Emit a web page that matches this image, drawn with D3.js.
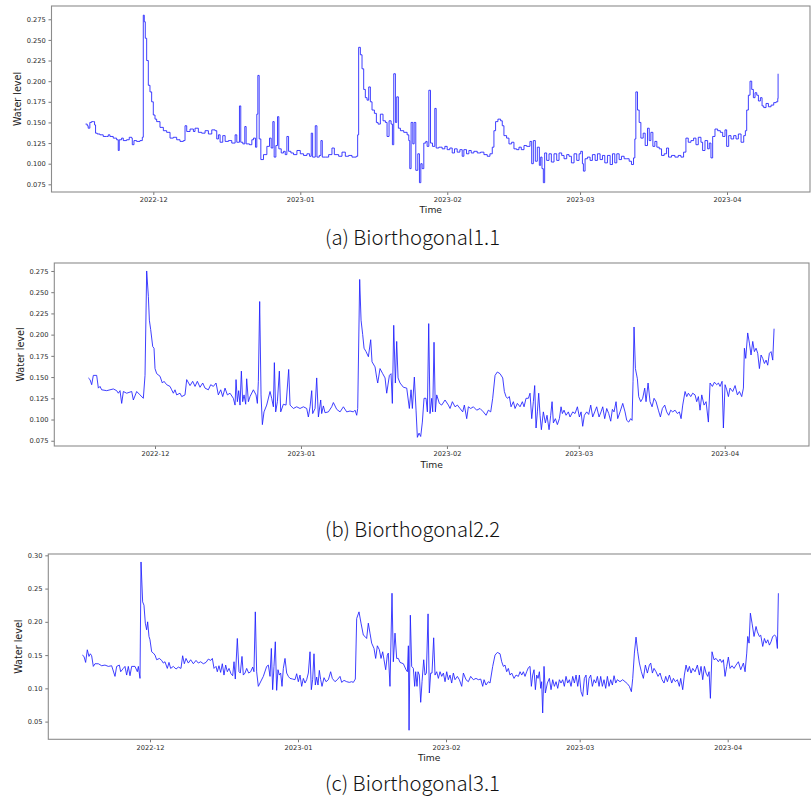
<!DOCTYPE html>
<html><head><meta charset="utf-8">
<script src="https://cdn.jsdelivr.net/npm/d3@7/dist/d3.min.js"></script>
<style>body{margin:0;background:#fff}svg{display:block}</style>
</head><body>
<svg id="chart" width="811" height="803"></svg>
<script>
// ---------------- data ----------------
// time = days since 2022-11-01 00:00 (UTC), value = water level
const monthTicks = ["2022-12-01","2023-01-01","2023-02-01","2023-03-01","2023-04-01"];
const yTicksAB = [0.075,0.100,0.125,0.150,0.175,0.200,0.225,0.250,0.275];
const yTicksC = [0.05,0.10,0.15,0.20,0.25,0.30];
const captions = ["(a) Biorthogonal1.1","(b) Biorthogonal2.2","(c) Biorthogonal3.1"];
const xLabel = "Time";
const yLabel = "Water level";

const seriesA = [[15.71,0.148],[16.06,0.146],[16.27,0.143],[16.48,0.143],[16.62,0.150],[16.98,0.151],[17.40,0.151],[17.61,0.147],[17.82,0.137],[18.17,0.136],[18.74,0.135],[19.44,0.133],[20.15,0.133],[20.5,0.135],[20.85,0.133],[21.55,0.131],[22.26,0.129],[22.61,0.116],[22.82,0.129],[23.31,0.131],[23.67,0.128],[24.37,0.129],[24.93,0.132],[25.43,0.131],[25.57,0.123],[25.92,0.128],[26.48,0.127],[27.19,0.128],[27.68,0.132],[27.89,0.280],[28.1,0.272],[28.31,0.252],[28.6,0.225],[28.95,0.195],[29.3,0.187],[29.65,0.175],[30.0,0.159],[30.36,0.154],[30.71,0.151],[31.41,0.144],[32.12,0.140],[32.82,0.138],[33.53,0.131],[34.23,0.132],[34.93,0.129],[35.64,0.127],[36.34,0.128],[36.69,0.146],[37.05,0.139],[37.75,0.142],[38.46,0.139],[38.8,0.143],[39.5,0.138],[40.2,0.137],[40.92,0.140],[41.62,0.136],[42.33,0.141],[43.03,0.140],[43.38,0.130],[43.74,0.135],[44.09,0.126],[44.65,0.134],[45.15,0.127],[45.85,0.128],[46.55,0.125],[47.26,0.135],[47.61,0.126],[48.17,0.170],[48.45,0.126],[48.88,0.124],[49.3,0.145],[49.58,0.124],[50.29,0.123],[50.78,0.129],[51.13,0.131],[51.55,0.120],[51.83,0.160],[52.05,0.207],[52.33,0.130],[52.68,0.105],[53.24,0.111],[53.95,0.121],[54.51,0.131],[54.86,0.119],[55.21,0.151],[55.49,0.108],[55.85,0.122],[56.2,0.157],[56.48,0.118],[56.98,0.113],[57.47,0.115],[57.82,0.111],[58.17,0.133],[58.53,0.115],[59.02,0.113],[59.58,0.111],[60.29,0.116],[61.0,0.112],[61.69,0.110],[62.4,0.112],[62.96,0.109],[63.31,0.137],[63.6,0.108],[64.16,0.146],[64.51,0.108],[65.0,0.110],[65.35,0.128],[65.64,0.108],[66.27,0.108],[66.98,0.111],[67.68,0.119],[68.18,0.111],[69.09,0.109],[69.8,0.114],[70.5,0.109],[71.2,0.110],[71.9,0.108],[72.82,0.109],[73.1,0.135],[73.31,0.241],[73.67,0.232],[74.02,0.215],[74.37,0.190],[74.72,0.180],[75.08,0.177],[75.43,0.193],[75.78,0.175],[76.13,0.165],[76.63,0.161],[77.05,0.150],[77.4,0.148],[77.89,0.160],[78.45,0.152],[78.95,0.150],[79.3,0.133],[79.72,0.152],[80.15,0.148],[80.43,0.123],[80.71,0.209],[81.06,0.150],[81.34,0.181],[81.69,0.143],[82.12,0.140],[82.82,0.138],[83.53,0.135],[83.88,0.128],[84.09,0.094],[84.37,0.150],[84.73,0.124],[85.01,0.150],[85.36,0.092],[85.78,0.112],[86.13,0.077],[86.42,0.100],[86.7,0.094],[87.05,0.125],[87.47,0.127],[87.75,0.121],[88.11,0.189],[88.46,0.125],[88.88,0.121],[89.37,0.167],[89.66,0.119],[90.22,0.120],[90.92,0.118],[91.49,0.121],[91.98,0.117],[92.54,0.119],[93.04,0.113],[93.53,0.118],[94.09,0.114],[94.66,0.117],[95.15,0.109],[95.5,0.117],[96.06,0.112],[96.56,0.116],[97.05,0.113],[97.61,0.115],[98.32,0.113],[99.02,0.114],[99.73,0.111],[100.43,0.109],[101.0,0.112],[101.49,0.120],[101.84,0.140],[102.19,0.151],[102.68,0.154],[103.25,0.152],[103.6,0.146],[103.95,0.134],[104.51,0.131],[105.01,0.124],[105.57,0.126],[106.06,0.118],[106.63,0.117],[107.12,0.120],[107.61,0.117],[108.18,0.122],[108.74,0.121],[109.44,0.127],[109.8,0.100],[110.15,0.128],[110.57,0.103],[110.99,0.120],[111.42,0.098],[111.7,0.108],[111.98,0.094],[112.26,0.077],[112.54,0.113],[112.96,0.104],[113.46,0.112],[113.95,0.102],[114.51,0.112],[115.08,0.104],[115.57,0.113],[116.13,0.110],[116.63,0.106],[117.19,0.111],[117.68,0.109],[118.18,0.101],[118.74,0.112],[119.3,0.104],[119.8,0.112],[120.15,0.115],[120.5,0.100],[120.71,0.091],[121.06,0.106],[121.56,0.108],[122.12,0.104],[122.61,0.111],[123.18,0.104],[123.67,0.112],[124.23,0.105],[124.73,0.110],[125.22,0.101],[125.78,0.110],[126.35,0.099],[126.84,0.112],[127.33,0.101],[127.75,0.112],[128.25,0.105],[128.74,0.109],[129.3,0.106],[129.87,0.106],[130.36,0.103],[130.85,0.099],[131.28,0.107],[131.56,0.130],[131.77,0.187],[132.12,0.165],[132.47,0.150],[132.83,0.131],[133.32,0.137],[133.74,0.122],[134.23,0.143],[134.59,0.128],[134.94,0.138],[135.36,0.121],[135.78,0.127],[136.2,0.120],[136.7,0.118],[137.19,0.110],[137.75,0.112],[138.25,0.119],[138.67,0.108],[139.3,0.110],[140.01,0.108],[140.71,0.110],[141.28,0.108],[141.84,0.114],[142.33,0.131],[142.82,0.126],[143.39,0.128],[143.95,0.131],[144.45,0.123],[144.94,0.132],[145.5,0.126],[145.85,0.116],[146.35,0.128],[146.91,0.118],[147.26,0.125],[147.61,0.107],[147.97,0.133],[148.46,0.142],[149.02,0.140],[149.59,0.138],[150.08,0.133],[150.57,0.141],[150.92,0.121],[151.35,0.134],[151.84,0.130],[152.4,0.134],[152.9,0.130],[153.39,0.136],[153.96,0.126],[154.52,0.134],[154.87,0.140],[155.15,0.165],[155.5,0.183],[155.85,0.200],[156.21,0.190],[156.56,0.180],[156.91,0.186],[157.27,0.183],[157.62,0.176],[158.04,0.180],[158.39,0.170],[158.74,0.168],[159.23,0.173],[159.73,0.169],[160.29,0.171],[160.85,0.174],[161.35,0.175],[161.7,0.179],[161.77,0.209]];

const seriesB = [[15.84,0.149],[16.20,0.147],[16.55,0.141],[16.90,0.152],[17.61,0.152],[17.97,0.137],[18.32,0.139],[18.67,0.135],[19.74,0.134],[21.15,0.136],[21.86,0.134],[22.21,0.131],[22.57,0.134],[22.92,0.119],[23.28,0.133],[23.98,0.131],[25.05,0.133],[25.40,0.123],[26.11,0.133],[26.82,0.129],[27.52,0.125],[27.88,0.152],[28.23,0.275],[28.59,0.245],[28.80,0.217],[29.08,0.206],[29.51,0.186],[29.79,0.184],[30.00,0.160],[30.36,0.154],[31.06,0.151],[31.56,0.143],[31.91,0.145],[32.48,0.141],[33.19,0.139],[33.54,0.135],[33.90,0.131],[34.25,0.135],[34.60,0.129],[35.31,0.131],[35.67,0.127],[36.37,0.129],[36.73,0.147],[37.44,0.140],[38.00,0.145],[38.50,0.139],[38.99,0.145],[39.56,0.138],[40.13,0.143],[40.62,0.137],[41.33,0.135],[41.83,0.141],[42.39,0.139],[42.96,0.143],[43.45,0.129],[43.95,0.135],[44.38,0.127],[44.87,0.137],[45.37,0.129],[45.93,0.131],[46.64,0.125],[47.00,0.117],[47.21,0.147],[47.49,0.121],[47.77,0.134],[48.06,0.117],[48.34,0.157],[48.62,0.121],[48.91,0.129],[49.26,0.118],[49.47,0.148],[49.83,0.121],[50.18,0.127],[50.89,0.135],[51.46,0.129],[51.74,0.119],[51.95,0.145],[52.23,0.239],[52.52,0.129],[52.80,0.094],[53.15,0.109],[53.72,0.117],[54.43,0.133],[54.78,0.125],[55.14,0.115],[55.35,0.167],[55.63,0.109],[55.99,0.121],[56.41,0.157],[56.70,0.109],[57.26,0.118],[57.83,0.117],[58.39,0.159],[58.68,0.117],[59.39,0.113],[60.09,0.115],[60.80,0.113],[61.51,0.115],[62.22,0.113],[62.57,0.103],[62.93,0.115],[63.28,0.134],[63.49,0.107],[63.99,0.113],[64.34,0.149],[64.70,0.103],[65.19,0.123],[65.40,0.107],[65.76,0.116],[66.11,0.108],[66.82,0.109],[67.53,0.115],[67.88,0.120],[68.59,0.112],[69.30,0.109],[70.01,0.115],[70.71,0.109],[71.42,0.110],[72.13,0.109],[72.48,0.111],[72.84,0.105],[73.05,0.113],[73.47,0.265],[73.76,0.217],[74.11,0.200],[74.40,0.184],[74.82,0.180],[75.32,0.174],[75.81,0.194],[76.09,0.168],[76.73,0.162],[77.09,0.149],[77.30,0.143],[77.79,0.160],[78.36,0.154],[78.86,0.149],[79.21,0.131],[79.78,0.152],[80.13,0.154],[80.41,0.119],[80.70,0.211],[81.05,0.143],[81.33,0.192],[81.62,0.149],[82.04,0.143],[82.75,0.138],[83.46,0.137],[84.02,0.113],[84.38,0.135],[84.66,0.113],[85.08,0.150],[85.44,0.111],[85.72,0.079],[86.08,0.084],[86.43,0.080],[86.78,0.097],[87.14,0.125],[87.56,0.125],[87.85,0.109],[88.13,0.213],[88.41,0.107],[88.77,0.125],[88.98,0.109],[89.26,0.191],[89.54,0.109],[89.83,0.129],[90.39,0.119],[90.89,0.117],[91.60,0.123],[92.31,0.117],[92.66,0.113],[93.16,0.121],[93.72,0.115],[94.22,0.117],[94.78,0.113],[95.35,0.109],[95.70,0.117],[96.20,0.101],[96.55,0.115],[97.05,0.113],[97.62,0.115],[98.32,0.111],[99.03,0.113],[99.74,0.109],[100.31,0.105],[100.80,0.111],[101.30,0.109],[101.72,0.125],[102.22,0.152],[102.71,0.156],[103.28,0.154],[103.85,0.149],[104.20,0.133],[104.55,0.127],[104.84,0.125],[105.26,0.127],[105.62,0.115],[106.11,0.121],[106.47,0.113],[106.96,0.119],[107.53,0.115],[108.02,0.121],[108.38,0.115],[108.80,0.125],[109.30,0.125],[109.65,0.131],[110.01,0.101],[110.36,0.121],[110.64,0.140],[110.93,0.090],[111.21,0.109],[111.49,0.131],[111.78,0.105],[112.06,0.088],[112.48,0.109],[112.91,0.096],[113.26,0.105],[113.69,0.088],[114.04,0.105],[114.33,0.121],[114.61,0.096],[115.03,0.101],[115.46,0.094],[115.88,0.101],[116.24,0.115],[116.52,0.107],[116.87,0.111],[117.30,0.105],[117.79,0.109],[118.15,0.103],[118.72,0.109],[119.21,0.107],[119.71,0.115],[120.13,0.103],[120.49,0.109],[120.84,0.092],[121.19,0.105],[121.69,0.109],[122.11,0.106],[122.54,0.117],[122.96,0.103],[123.39,0.109],[123.81,0.115],[124.31,0.103],[124.73,0.109],[125.09,0.115],[125.51,0.101],[125.94,0.113],[126.36,0.107],[126.79,0.098],[127.14,0.112],[127.49,0.109],[127.92,0.121],[128.27,0.101],[128.77,0.109],[129.34,0.119],[129.83,0.109],[130.19,0.099],[130.61,0.097],[131.03,0.101],[131.32,0.099],[131.53,0.145],[131.74,0.209],[132.03,0.160],[132.45,0.148],[132.73,0.127],[133.16,0.121],[133.58,0.125],[134.01,0.137],[134.29,0.121],[134.72,0.143],[135.14,0.121],[135.57,0.115],[135.99,0.125],[136.42,0.121],[136.91,0.111],[137.34,0.103],[137.76,0.113],[138.26,0.117],[138.68,0.109],[139.11,0.105],[139.53,0.111],[139.96,0.109],[140.45,0.111],[140.95,0.107],[141.37,0.109],[141.73,0.101],[142.08,0.117],[142.58,0.133],[142.93,0.127],[143.28,0.131],[143.78,0.127],[144.20,0.131],[144.70,0.129],[145.05,0.121],[145.41,0.127],[145.76,0.111],[146.12,0.129],[146.61,0.117],[147.04,0.121],[147.53,0.097],[147.89,0.143],[148.38,0.139],[148.81,0.144],[149.30,0.141],[149.66,0.143],[150.01,0.139],[150.44,0.145],[150.72,0.090],[151.07,0.141],[151.43,0.135],[151.78,0.127],[152.13,0.137],[152.70,0.133],[153.20,0.140],[153.69,0.129],[154.12,0.133],[154.61,0.127],[154.97,0.137],[155.18,0.184],[155.46,0.172],[155.88,0.202],[156.24,0.190],[156.59,0.176],[156.95,0.192],[157.30,0.180],[157.66,0.184],[158.01,0.178],[158.37,0.160],[158.72,0.176],[159.07,0.172],[159.43,0.166],[159.78,0.170],[160.13,0.164],[160.49,0.178],[160.84,0.180],[161.20,0.170],[161.48,0.207]];

const seriesC = [[15.83,0.150],[16.18,0.148],[16.52,0.139],[16.87,0.158],[17.22,0.148],[17.50,0.152],[17.78,0.149],[18.13,0.133],[18.48,0.137],[19.18,0.137],[19.88,0.134],[20.57,0.135],[21.27,0.133],[21.97,0.134],[22.67,0.118],[23.02,0.133],[23.58,0.135],[23.86,0.125],[24.41,0.130],[24.76,0.133],[25.11,0.120],[25.46,0.133],[25.81,0.119],[26.16,0.133],[26.86,0.133],[27.35,0.125],[27.56,0.133],[27.91,0.115],[28.12,0.290],[28.46,0.230],[28.74,0.225],[29.02,0.198],[29.30,0.188],[29.51,0.200],[29.79,0.178],[30.00,0.173],[30.35,0.155],[30.70,0.153],[31.05,0.150],[31.40,0.143],[31.96,0.145],[32.44,0.142],[32.79,0.138],[33.14,0.140],[33.63,0.130],[33.98,0.139],[34.33,0.130],[34.89,0.133],[35.45,0.129],[35.94,0.132],[36.49,0.130],[36.84,0.149],[37.19,0.137],[37.54,0.145],[38.03,0.138],[38.52,0.143],[39.08,0.137],[39.64,0.142],[40.12,0.138],[40.61,0.140],[41.17,0.137],[41.73,0.139],[42.22,0.144],[42.71,0.142],[43.06,0.145],[43.41,0.130],[43.83,0.133],[44.10,0.125],[44.45,0.134],[44.80,0.124],[45.15,0.137],[45.50,0.120],[45.85,0.135],[46.20,0.125],[46.55,0.130],[46.97,0.122],[47.32,0.119],[47.60,0.140],[47.87,0.114],[48.29,0.175],[48.64,0.125],[48.92,0.123],[49.27,0.148],[49.55,0.120],[49.90,0.123],[50.25,0.130],[50.67,0.123],[51.09,0.125],[51.51,0.132],[51.78,0.125],[52.06,0.215],[52.34,0.125],[52.69,0.103],[53.04,0.108],[53.74,0.118],[54.44,0.133],[54.79,0.135],[55.14,0.118],[55.42,0.160],[55.69,0.098],[55.97,0.133],[56.25,0.170],[56.53,0.097],[56.81,0.128],[57.09,0.120],[57.37,0.123],[57.65,0.103],[57.93,0.130],[58.28,0.145],[58.63,0.123],[58.98,0.118],[59.33,0.115],[59.88,0.114],[60.37,0.113],[60.72,0.122],[61.07,0.110],[61.42,0.120],[61.77,0.103],[62.12,0.115],[62.47,0.108],[62.82,0.113],[63.17,0.123],[63.52,0.155],[63.79,0.098],[64.07,0.113],[64.35,0.152],[64.63,0.105],[64.91,0.117],[65.19,0.105],[65.47,0.127],[65.75,0.113],[66.03,0.103],[66.45,0.116],[66.87,0.110],[67.36,0.113],[67.84,0.125],[68.19,0.115],[68.75,0.110],[69.24,0.113],[69.80,0.118],[70.15,0.109],[70.64,0.112],[71.20,0.110],[71.75,0.109],[72.24,0.110],[72.59,0.109],[73.01,0.114],[73.29,0.205],[73.78,0.215],[74.20,0.198],[74.69,0.180],[75.04,0.178],[75.38,0.175],[75.73,0.198],[76.08,0.183],[76.43,0.168],[76.92,0.160],[77.27,0.145],[77.62,0.164],[78.04,0.158],[78.39,0.145],[78.74,0.155],[79.02,0.143],[79.37,0.128],[79.71,0.150],[79.92,0.153],[80.27,0.103],[80.69,0.243],[80.97,0.140],[81.32,0.183],[81.67,0.145],[82.02,0.145],[82.37,0.139],[83.07,0.137],[83.63,0.128],[83.91,0.125],[84.12,0.164],[84.26,0.037],[84.53,0.210],[84.81,0.133],[85.16,0.130],[85.44,0.103],[85.65,0.125],[85.93,0.103],[86.14,0.125],[86.42,0.120],[86.70,0.079],[86.98,0.110],[87.33,0.143],[87.61,0.120],[87.89,0.123],[88.24,0.212],[88.51,0.093],[88.79,0.123],[89.07,0.123],[89.42,0.176],[89.70,0.120],[90.05,0.125],[90.40,0.115],[90.75,0.125],[91.10,0.118],[91.45,0.123],[91.80,0.110],[92.15,0.125],[92.49,0.113],[92.84,0.120],[93.19,0.108],[93.54,0.123],[93.89,0.113],[94.38,0.118],[94.80,0.113],[95.29,0.103],[95.64,0.123],[96.19,0.113],[96.68,0.110],[97.17,0.118],[97.73,0.113],[98.29,0.115],[98.78,0.113],[99.27,0.114],[99.69,0.103],[99.97,0.113],[100.38,0.105],[100.87,0.110],[101.22,0.108],[101.78,0.133],[102.27,0.150],[102.76,0.154],[103.32,0.152],[103.67,0.140],[104.02,0.133],[104.36,0.135],[104.71,0.125],[105.06,0.130],[105.41,0.120],[105.76,0.123],[106.25,0.115],[106.67,0.120],[107.16,0.118],[107.51,0.125],[107.86,0.120],[108.20,0.125],[108.55,0.118],[108.90,0.125],[109.25,0.131],[109.60,0.133],[109.88,0.103],[110.16,0.120],[110.44,0.128],[110.72,0.098],[111.00,0.120],[111.28,0.115],[111.56,0.125],[111.84,0.100],[112.04,0.110],[112.25,0.063],[112.53,0.133],[112.81,0.093],[113.23,0.108],[113.65,0.115],[114.00,0.098],[114.35,0.113],[114.70,0.103],[115.05,0.110],[115.40,0.100],[115.75,0.113],[116.09,0.108],[116.44,0.113],[116.79,0.103],[117.14,0.118],[117.49,0.108],[117.84,0.113],[118.19,0.103],[118.54,0.118],[118.89,0.108],[119.24,0.120],[119.59,0.103],[119.94,0.120],[120.28,0.095],[120.63,0.088],[120.98,0.115],[121.33,0.120],[121.61,0.090],[121.96,0.115],[122.31,0.120],[122.66,0.103],[123.01,0.113],[123.36,0.108],[123.71,0.118],[124.06,0.103],[124.40,0.118],[124.75,0.103],[125.10,0.113],[125.45,0.100],[125.80,0.118],[126.15,0.103],[126.50,0.113],[126.85,0.105],[127.20,0.119],[127.55,0.108],[127.89,0.113],[128.45,0.110],[129.01,0.113],[129.50,0.110],[129.99,0.107],[130.41,0.103],[130.83,0.095],[131.11,0.115],[131.46,0.153],[131.80,0.177],[132.15,0.155],[132.50,0.138],[132.92,0.125],[133.34,0.115],[133.76,0.135],[134.18,0.123],[134.60,0.135],[134.88,0.138],[135.23,0.123],[135.57,0.130],[135.99,0.125],[136.41,0.118],[136.83,0.123],[137.25,0.113],[137.67,0.108],[138.02,0.118],[138.37,0.110],[138.79,0.120],[139.28,0.108],[139.63,0.115],[140.04,0.110],[140.46,0.113],[140.88,0.103],[141.16,0.115],[141.58,0.098],[141.93,0.120],[142.28,0.135],[142.63,0.125],[142.98,0.133],[143.33,0.123],[143.67,0.130],[144.16,0.125],[144.65,0.135],[145.07,0.120],[145.42,0.133],[145.77,0.113],[146.12,0.133],[146.47,0.123],[146.82,0.118],[147.10,0.125],[147.38,0.085],[147.72,0.155],[148.14,0.143],[148.56,0.145],[149.05,0.140],[149.40,0.144],[149.75,0.139],[150.10,0.143],[150.45,0.118],[150.80,0.133],[151.14,0.147],[151.49,0.130],[151.91,0.134],[152.33,0.130],[152.75,0.135],[153.24,0.140],[153.73,0.128],[154.29,0.138],[154.64,0.125],[154.99,0.153],[155.20,0.178],[155.48,0.168],[155.75,0.213],[156.10,0.198],[156.52,0.178],[156.94,0.193],[157.22,0.185],[157.64,0.178],[157.92,0.180],[158.34,0.163],[158.69,0.175],[159.04,0.168],[159.39,0.173],[159.74,0.165],[160.08,0.170],[160.43,0.178],[160.85,0.180],[161.13,0.178],[161.41,0.160],[161.62,0.243]];

// ---------------- layout ----------------
const t0 = Date.UTC(2022, 10, 1);
const toDate = d => new Date(t0 + d * 864e5);
const parseDay = d3.utcParse("%Y-%m-%d");

const panels = [
  {data: seriesA, caption: captions[0], yTicks: yTicksAB, fmt: d3.format(".3f"), curve: d3.curveStepAfter,
   left: 51.5, right: 810, top: 6, bottom: 192, xDom: [8.53, 168.5], yDom: [0.0657, 0.2911],
   ylabX: 17.3, timeY: 213.3, capY: 245},
  {data: seriesB, caption: captions[1], yTicks: yTicksAB, fmt: d3.format(".3f"), curve: d3.curveLinear,
   left: 54.3, right: 809, top: 263, bottom: 446, xDom: [8.61, 168.9], yDom: [0.0688, 0.2844],
   ylabX: 21, timeY: 468, capY: 537},
  {data: seriesC, caption: captions[2], yTicks: yTicksC, fmt: d3.format(".2f"), curve: d3.curveLinear,
   left: 48.3, right: 812, top: 554, bottom: 739.3, xDom: [8.70, 168.66], yDom: [0.0234, 0.302],
   ylabX: 18.8, timeY: 761, capY: 791}
];

const svg = d3.select("#chart");
svg.append("rect").attr("width", 811).attr("height", 803).attr("fill", "#fff");

const tickFont = "DejaVu Sans, sans-serif";

panels.forEach(p => {
  const x = d3.scaleUtc().domain(p.xDom.map(toDate)).range([p.left, p.right]);
  const y = d3.scaleLinear().domain(p.yDom).range([p.bottom, p.top]);
  const g = svg.append("g");

  const line = d3.line().curve(p.curve).x(d => x(toDate(d[0]))).y(d => y(d[1]));
  g.append("path").datum(p.data)
    .attr("d", line).attr("fill", "none")
    .attr("stroke", "#1f1fff").attr("stroke-width", 0.95)
    .attr("stroke-linejoin", "miter").attr("stroke-opacity", 0.9);

  const xa = g.append("g").attr("transform", `translate(0,${p.bottom})`)
    .call(d3.axisBottom(x).tickValues(monthTicks.map(parseDay))
      .tickFormat(d3.utcFormat("%Y-%m")).tickSize(3).tickPadding(2.5));
  const ya = g.append("g").attr("transform", `translate(${p.left},0)`)
    .call(d3.axisLeft(y).tickValues(p.yTicks).tickFormat(p.fmt).tickSize(3).tickPadding(2.7));
  [xa, ya].forEach(a => {
    a.select(".domain").remove();
    a.selectAll(".tick line").attr("stroke", "#555").attr("stroke-width", 0.8);
    a.selectAll(".tick text").attr("fill", "#2a2a2a").style("font-family", tickFont).style("font-size", "6.7px");
  });

  g.append("rect").attr("x", p.left).attr("y", p.top)
    .attr("width", p.right - p.left).attr("height", p.bottom - p.top)
    .attr("fill", "none").attr("stroke", "#8c8c8c").attr("stroke-width", 1.1);

  g.append("text").text(xLabel)
    .attr("x", (p.left + Math.min(p.right, 810)) / 2).attr("y", p.timeY)
    .attr("text-anchor", "middle").attr("fill", "#222")
    .style("font-family", tickFont).style("font-size", "9.2px");
  g.append("text").text(yLabel)
    .attr("transform", `translate(${p.ylabX},${(p.top + p.bottom) / 2}) rotate(-90)`)
    .attr("text-anchor", "middle").attr("dy", "0.35em").attr("fill", "#222")
    .style("font-family", tickFont).style("font-size", "9.6px");

  const cap = svg.append("text").text(p.caption)
    .attr("x", 412.5).attr("y", p.capY).attr("text-anchor", "middle").attr("fill", "#111")
    .style("font-family", "'Noto Sans CJK KR', 'Noto Sans', sans-serif")
    .style("font-weight", 300).style("font-size", "19px");
  const len = cap.node().getComputedTextLength();
  if (len > 0) cap.style("font-size", (19 * 175 / len).toFixed(2) + "px");
});
</script>
</body></html>
